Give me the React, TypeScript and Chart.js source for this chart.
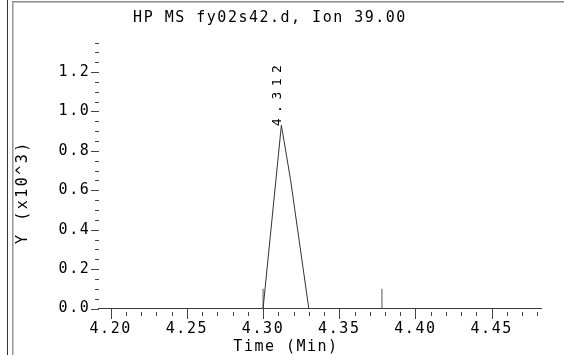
import React, { useEffect, useRef } from 'react';
import { Chart, registerables } from 'chart.js';

Chart.register(...registerables);

const titleText = 'HP MS fy02s42.d, Ion 39.00';
const xAxisTitle = 'Time (Min)';
const yAxisTitle = 'Y (x10^3)';

const traceTimes = [4.192, 4.3, 4.312, 4.318, 4.33, 4.4827];
const traceValues = [0, 0, 0.93, 0.655, 0, 0];

const markerTimes = [4.3, 4.378];
const markerHeights = [0.1, 0.1];

const peakLabel = '4.312';
const peakLabelTime = 4.312;
const peakLabelValue = 0.93;

const xTickValues = [4.2, 4.25, 4.3, 4.35, 4.4, 4.45];
const xTickLabels = ['4.20', '4.25', '4.30', '4.35', '4.40', '4.45'];
const yTickValues = [0, 0.2, 0.4, 0.6, 0.8, 1.0, 1.2];
const yTickLabels = ['0.0', '0.2', '0.4', '0.6', '0.8', '1.0', '1.2'];

const xMin = 4.192;
const xMax = 4.4827;
const yMin = 0;
const yMax = 1.35;
const xMinorStep = 0.01;
const yMinorStep = 0.05;

const FONT = "'DejaVu Sans Mono', monospace";

const framePlugin = {
  id: 'frame',
  beforeDraw(chart: any) {
    const c = chart.ctx;
    c.save();
    c.fillStyle = '#ffffff';
    c.fillRect(0, 0, chart.width, chart.height);
    c.restore();
    c.letterSpacing = '1.6px';
  },
  afterDraw(chart: any) {
    const c = chart.ctx;
    c.letterSpacing = '0px';
    const xs = chart.scales.x;
    const ys = chart.scales.y;
    c.save();
    // frame
    c.fillStyle = '#333333';
    c.fillRect(7, 0, 1, chart.height);
    c.fillStyle = '#9a9a9a';
    c.fillRect(12, 1, 1, chart.height);
    c.fillStyle = '#c8c8c8';
    c.fillRect(13, 1, 1, chart.height);
    c.fillStyle = '#8a8a8a';
    c.fillRect(12, 1, chart.width - 12, 1);
    c.fillStyle = '#c0c0c0';
    c.fillRect(13, 2, chart.width - 13, 1);

    // ticks
    c.strokeStyle = '#444444';
    c.lineWidth = 1;
    const axisY = Math.round(ys.getPixelForValue(0));
    c.beginPath();
    const nx = Math.round((4.48 - 4.2) / xMinorStep);
    for (let i = 0; i <= nx; i++) {
      const v = 4.2 + i * xMinorStep;
      const px = Math.round(xs.getPixelForValue(v)) + 0.5;
      if (i % 5 === 0) {
        c.moveTo(px, axisY);
        c.lineTo(px, axisY + 10);
      } else {
        c.moveTo(px, axisY + 3);
        c.lineTo(px, axisY + 7);
      }
    }
    const axisX = Math.round(xs.getPixelForValue(xMin));
    const ny = Math.round((yMax - yMin) / yMinorStep);
    for (let i = 0; i <= ny; i++) {
      const v = yMin + i * yMinorStep;
      const py = Math.round(ys.getPixelForValue(v)) + 0.5;
      if (i % 4 === 0) {
        c.moveTo(axisX - 8, py);
        c.lineTo(axisX, py);
      } else {
        c.moveTo(axisX - 4, py);
        c.lineTo(axisX, py);
      }
    }
    c.stroke();

    // texts
    c.fillStyle = '#000000';
    c.font = `15px ${FONT}`;
    c.textBaseline = 'alphabetic';
    c.letterSpacing = '1.5px';
    c.textAlign = 'center';
    c.fillText(titleText, 270, 22);
    c.fillText(xAxisTitle, 286, 351);

    c.save();
    c.letterSpacing = '2.5px';
    c.translate(27, 192);
    c.rotate(-Math.PI / 2);
    c.textAlign = 'center';
    c.fillText(yAxisTitle, 0, 0);
    c.restore();

    c.save();
    c.font = `13px ${FONT}`;
    c.letterSpacing = '5.5px';
    c.translate(xs.getPixelForValue(peakLabelTime), ys.getPixelForValue(peakLabelValue) + 1);
    c.rotate(-Math.PI / 2);
    c.textAlign = 'left';
    c.fillText(peakLabel, 0, 0);
    c.restore();

    c.restore();
  },
};

export default function App() {
  const ref = useRef<HTMLCanvasElement>(null);
  useEffect(() => {
    if (!ref.current) return;
    const traceData = traceTimes.map((t, i) => ({ x: t, y: traceValues[i] }));
    const markerData: any[] = [];
    markerTimes.forEach((t, i) => {
      markerData.push({ x: t, y: 0 }, { x: t, y: markerHeights[i] }, { x: t, y: null });
    });
    const tickFont = { family: FONT, size: 15 };
    const chart = new Chart(ref.current, {
      type: 'line',
      data: {
        datasets: [
          {
            data: traceData,
            borderColor: '#333333',
            borderWidth: 1,
            pointRadius: 0,
            tension: 0,
          },
          {
            data: markerData,
            borderColor: '#555555',
            borderWidth: 1,
            pointRadius: 0,
            spanGaps: false,
          },
        ],
      },
      options: {
        responsive: false,
        animation: false,
        devicePixelRatio: 1,
        layout: { padding: { left: 0, right: 22.5, top: 42.5, bottom: 0 } },
        plugins: {
          legend: { display: false },
          title: { display: false },
          tooltip: { enabled: false },
        },
        scales: {
          x: {
            type: 'linear',
            min: xMin,
            max: xMax,
            grid: { display: false, drawTicks: false },
            border: { display: true, color: '#444444', width: 1 },
            ticks: {
              autoSkip: false,
              maxRotation: 0,
              minRotation: 0,
              padding: 12,
              color: '#000000',
              font: tickFont,
              callback: (_v: any, i: number) => xTickLabels[i],
            },
            afterBuildTicks: (s: any) => {
              s.ticks = xTickValues.map((v) => ({ value: v }));
            },
            afterFit: (s: any) => {
              s.height = 46.5;
            },
          },
          y: {
            type: 'linear',
            min: yMin,
            max: yMax,
            grid: { display: false, drawTicks: false },
            border: { display: false },
            ticks: {
              autoSkip: false,
              padding: 8,
              color: '#000000',
              font: tickFont,
              callback: (_v: any, i: number) => yTickLabels[i],
            },
            afterBuildTicks: (s: any) => {
              s.ticks = yTickValues.map((v) => ({ value: v }));
            },
            afterFit: (s: any) => {
              s.width = 98.5;
            },
          },
        },
      } as any,
      plugins: [framePlugin],
    });
    return () => chart.destroy();
  }, []);
  return (
    <div style={{ position: 'fixed', left: 0, top: 0, width: 564, height: 355 }}>
      <canvas ref={ref} width={564} height={355} style={{ display: 'block' }} />
    </div>
  );
}
